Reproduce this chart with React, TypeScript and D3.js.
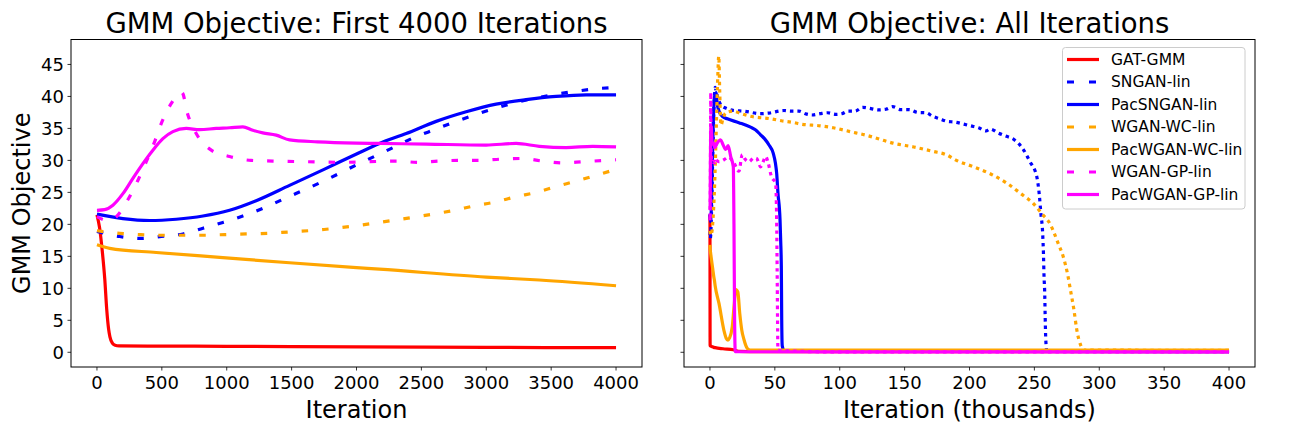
import * as d3 from 'd3';

type Pt = [number, number];

// ---- first 4000 iterations (x = iteration) ----
const gatFirst: Pt[] = [[0, 21.5], [20, 19.5], [40, 16], [60, 11.5], [75, 6.8], [90, 3.6], [100, 2.4], [120, 1.4], [140, 1.1], [170, 1.0], [500, 0.97], [1000, 0.93], [2000, 0.85], [3000, 0.77], [4000, 0.72]];
const snganFirst: Pt[] = [[0, 18.9], [175, 18.1], [342, 17.8], [496, 18.1], [662, 18.5], [817, 19.4], [970, 20.3], [1124, 21.3], [1278, 22.5], [1432, 23.9], [1750, 26.8], [2000, 29.3], [2293, 32.1], [2447, 33.6], [2601, 34.8], [2755, 36.0], [2909, 37.1], [3063, 38.1], [3217, 39.0], [3371, 39.7], [3525, 40.3], [3692, 40.8], [3846, 41.2], [4000, 41.4]];
const pacSnganFirst: Pt[] = [[0, 21.6], [200, 20.9], [406, 20.6], [611, 20.8], [817, 21.3], [1022, 22.2], [1227, 23.7], [1484, 26.1], [1750, 28.6], [2000, 31.0], [2177, 32.65], [2383, 34.2], [2614, 36.1], [2845, 37.6], [3076, 38.8], [3307, 39.5], [3538, 40.0], [3769, 40.25], [4000, 40.25]];
const wganWcFirst: Pt[] = [[0, 19.0], [175, 18.6], [329, 18.4], [483, 18.3], [662, 18.3], [829, 18.3], [983, 18.4], [1150, 18.5], [1317, 18.6], [1471, 18.8], [1750, 19.2], [2000, 19.8], [2275, 20.6], [2434, 21.1], [2588, 21.6], [2755, 22.2], [2909, 22.9], [3071, 23.5], [3224, 24.3], [3384, 25.0], [3538, 25.9], [3697, 26.8], [3851, 27.7], [4000, 28.6]];
const pacWcFirst: Pt[] = [[0, 16.8], [98, 16.25], [457, 15.6], [970, 14.8], [1484, 14.0], [2000, 13.25], [2177, 13.0], [3000, 11.75], [3409, 11.3], [4000, 10.4]];
const wganGpFirst: Pt[] = [[0, 21.2], [80, 20.6], [149, 21.2], [237, 23.8], [316, 26.9], [380, 29.8], [444, 32.9], [496, 35.8], [573, 38.9], [635, 40.5], [655, 40.6], [701, 37.1], [765, 34.2], [881, 31.6], [1022, 30.6], [1189, 30.0], [1355, 29.9], [1600, 29.8], [1900, 29.7], [2100, 29.8], [2306, 29.9], [2473, 29.7], [2634, 29.9], [2793, 30.0], [2947, 30.0], [3114, 30.2], [3276, 30.3], [3430, 29.9], [3589, 29.6], [3748, 29.8], [3910, 30.0], [4000, 30.1]];
const pacGpFirst: Pt[] = [[0, 22.2], [59, 22.3], [123, 23.0], [200, 24.8], [277, 27.2], [354, 29.5], [431, 31.6], [508, 33.4], [585, 34.5], [688, 35.0], [791, 34.8], [919, 35.0], [1022, 35.1], [1124, 35.25], [1201, 34.7], [1278, 34.3], [1381, 33.95], [1484, 33.2], [1700, 32.9], [2000, 32.7], [2177, 32.65], [2537, 32.55], [2999, 32.4], [3230, 32.65], [3409, 32.2], [3615, 32.0], [3820, 32.2], [4000, 32.1]];

// ---- rest of training (x = thousands of iterations) ----
const gatRest: Pt[] = [[10, 0.55], [18, 0.4], [22, 0.15], [40, 0.1], [100, 0.1], [400, 0.1]];
const snganRest: Pt[] = [[5, 40.6], [6.5, 39.5], [8.7, 38.6], [13, 38.1], [18.5, 37.8], [26, 37.7], [39, 37.3], [45.5, 37.4], [57, 37.8], [62, 37.7], [68.6, 37.7], [73.5, 37.3], [79, 37.1], [84.8, 37.3], [90.7, 37.45], [96.9, 37.2], [101.5, 37.3], [106.6, 37.7], [111.8, 37.7], [117.7, 38.3], [124, 38.1], [129.8, 37.9], [135.7, 38.0], [140.8, 38.4], [147, 37.95], [153.6, 37.95], [160, 37.5], [166.5, 37.45], [171.6, 36.9], [177, 36.5], [182.9, 36.1], [188.5, 36.0], [195, 35.7], [200.9, 35.4], [207, 35.1], [212.7, 34.6], [216, 34.9], [222, 34.3], [227.3, 33.85], [234, 33.3], [238.5, 32.5], [241.5, 31.7], [246.6, 29.8], [251.8, 27.5], [253.8, 24.6], [255, 21.7], [256.4, 18.5], [257, 15.3], [257.4, 12.1], [258, 8.9], [258.3, 5.7], [258.7, 2.4], [259.5, 0.3], [300, 0.15], [400, 0.15]];
const pacSnganRest: Pt[] = [[4.9, 40.6], [5.5, 39], [7, 37.7], [10, 36.8], [13.4, 36.5], [22.3, 35.9], [31.3, 35.2], [35, 34.8], [39, 34.0], [42, 33.4], [45.5, 32.4], [48.8, 31.1], [50.5, 29.5], [51.4, 28.0], [52.4, 24.9], [54, 20.7], [54.5, 17.5], [55, 13.4], [55.3, 5], [55.7, 1.0], [57, 0.3], [100, 0.15], [400, 0.1]];
const wganWcRest: Pt[] = [[5, 36], [6, 43], [6.8, 46.3], [7.5, 41], [8.5, 35.5], [10, 36.5], [12, 37.4], [18, 37.7], [24, 37.3], [31, 36.9], [47, 36.5], [55, 36.2], [65, 35.9], [69.4, 35.7], [85, 35.4], [95, 35.1], [108, 34.5], [121, 33.9], [131, 33.3], [141, 32.7], [157, 32.1], [172, 31.4], [182, 30.9], [190, 30.0], [203, 29.0], [217, 27.8], [229, 26.4], [241.5, 24.5], [249, 23.3], [255.6, 21.7], [262, 20.1], [268.4, 17.0], [272.3, 14.9], [275.6, 12.2], [278, 9.5], [280.5, 6.6], [282.6, 3.6], [285.7, 1.1], [288, 0.35], [400, 0.3]];
const pacWcRest: Pt[] = [[7, 7.6], [10.8, 3.4], [12.5, 2.2], [13.9, 1.9], [15, 2.2], [17.2, 4.0], [18.5, 7], [20, 9.8], [21.5, 9.4], [23, 6], [24.5, 3.5], [26.2, 2.0], [28.8, 0.6], [31, 0.35], [400, 0.35]];
const wganGpRest: Pt[] = [[7, 29.8], [10.8, 30.1], [14, 30.5], [18.5, 29.6], [22.3, 28.3], [24.9, 30.9], [27, 30.2], [30, 29.8], [33.9, 30.4], [36, 30.3], [39, 29.0], [41, 29.8], [43, 30.6], [45, 29.5], [47.3, 27.5], [50.6, 26.4], [51.4, 20.7], [51.8, 12.3], [52.4, 0.3], [100, 0.05], [400, 0.05]];
const pacGpRest: Pt[] = [[5.6, 32.7], [8.2, 33.2], [10, 32.5], [12.1, 31.7], [14, 32.3], [16, 30.6], [18, 29.0], [18.5, 20], [19, 5], [19.5, 0.1], [100, 0.05], [400, 0.05]];

const yTicks = [0, 5, 10, 15, 20, 25, 30, 35, 40, 45];
const xTicksFirst = [0, 500, 1000, 1500, 2000, 2500, 3000, 3500, 4000];
const xTicksAll = [0, 50, 100, 150, 200, 250, 300, 350, 400];

const series = [
  { name: 'GAT-GMM', color: '#ff0000', dashed: false, first: gatFirst, rest: gatRest },
  { name: 'SNGAN-lin', color: '#0000ff', dashed: true, first: snganFirst, rest: snganRest },
  { name: 'PacSNGAN-lin', color: '#0000ff', dashed: false, first: pacSnganFirst, rest: pacSnganRest },
  { name: 'WGAN-WC-lin', color: '#ffa500', dashed: true, first: wganWcFirst, rest: wganWcRest },
  { name: 'PacWGAN-WC-lin', color: '#ffa500', dashed: false, first: pacWcFirst, rest: pacWcRest },
  { name: 'WGAN-GP-lin', color: '#ff00ff', dashed: true, first: wganGpFirst, rest: wganGpRest },
  { name: 'PacWGAN-GP-lin', color: '#ff00ff', dashed: false, first: pacGpFirst, rest: pacGpRest },
];

const FONT = 'DejaVu Sans';
const TOP = 39.5;
const BOTTOM = 367;
const yScale = d3.scaleLinear().domain([-2.3, 48.9]).range([BOTTOM, TOP]);

interface PanelProps {
  id: string;
  x0: number;
  x1: number;
  domain: [number, number];
  xTicks: number[];
  title: string;
  xLabel: string;
  full: boolean;
}

const Panel = ({ id, x0, x1, domain, xTicks, title, xLabel, full }: PanelProps) => {
  const x = d3.scaleLinear().domain(domain).range([x0, x1]);
  const line = d3
    .line<Pt>()
    .x((d) => x(d[0]))
    .y((d) => yScale(d[1]))
    .curve(d3.curveMonotoneX);
  const cx = (x0 + x1) / 2;

  return (
    <g>
      <defs>
        <clipPath id={id}>
          <rect x={x0} y={TOP} width={x1 - x0} height={BOTTOM - TOP} />
        </clipPath>
      </defs>

      <g clipPath={`url(#${id})`}>
        {series.map((s) => {
          const pts: Pt[] = full
            ? [...s.first.map((p) => [p[0] / 1000, p[1]] as Pt), ...s.rest]
            : s.first;
          return (
            <path
              key={s.name}
              d={line(pts) || ''}
              fill="none"
              stroke={s.color}
              strokeWidth={3.2}
              strokeDasharray={s.dashed ? (full ? '3.5 4' : '6.5 14') : undefined}
              strokeLinejoin="round"
            />
          );
        })}
      </g>

      {/* frame */}
      <rect x={x0} y={TOP} width={x1 - x0} height={BOTTOM - TOP} fill="none" stroke="#000" strokeWidth={1} />

      {/* x axis */}
      {xTicks.map((t) => (
        <g key={t}>
          <line x1={x(t)} x2={x(t)} y1={BOTTOM} y2={BOTTOM + 3.5} stroke="#000" strokeWidth={0.8} />
          <text x={x(t)} y={389} textAnchor="middle" fontSize={18} fontFamily={FONT}>
            {t}
          </text>
        </g>
      ))}

      {/* y axis */}
      {yTicks.map((t) => (
        <g key={t}>
          <line x1={x0 - 3.5} x2={x0} y1={yScale(t)} y2={yScale(t)} stroke="#000" strokeWidth={0.8} />
          {!full && (
            <text x={x0 - 7} y={yScale(t) + 6.4} textAnchor="end" fontSize={18} fontFamily={FONT}>
              {t}
            </text>
          )}
        </g>
      ))}

      <text x={cx} y={33} textAnchor="middle" fontSize={27.5} fontFamily={FONT}>
        {title}
      </text>
      <text x={cx} y={418} textAnchor="middle" fontSize={24} fontFamily={FONT}>
        {xLabel}
      </text>
      {!full && (
        <text
          transform={`translate(29.5, ${(TOP + BOTTOM) / 2}) rotate(-90)`}
          textAnchor="middle"
          fontSize={24}
          fontFamily={FONT}
        >
          GMM Objective
        </text>
      )}
    </g>
  );
};

const Legend = () => {
  const left = 1062.5;
  const top = 47.5;
  const rowGap = 22.5;
  return (
    <g>
      <rect x={left} y={top} width={182.5} height={161.5} rx={3} fill="#fff" fillOpacity={0.8} stroke="#cccccc" strokeWidth={1} />
      {series.map((s, i) => {
        const cy = top + 12 + i * rowGap;
        return (
          <g key={s.name}>
            <line
              x1={left + 4.5}
              x2={left + 36.5}
              y1={cy}
              y2={cy}
              stroke={s.color}
              strokeWidth={3.2}
              strokeDasharray={s.dashed ? '7 15' : undefined}
            />
            <text x={left + 48.5} y={cy + 5.4} fontSize={15.5} fontFamily={FONT}>
              {s.name}
            </text>
          </g>
        );
      })}
    </g>
  );
};

export default function App() {
  return (
    <svg
      width={1296}
      height={432}
      style={{ position: 'absolute', left: 0, top: 0, background: '#fff' }}
    >
      <Panel
        id="clipFirst"
        x0={71}
        x1={642}
        domain={[-200, 4200]}
        xTicks={xTicksFirst}
        title="GMM Objective: First 4000 Iterations"
        xLabel="Iteration"
        full={false}
      />
      <Panel
        id="clipAll"
        x0={684}
        x1={1255}
        domain={[-20, 420]}
        xTicks={xTicksAll}
        title="GMM Objective: All Iterations"
        xLabel="Iteration (thousands)"
        full={true}
      />
      <Legend />
    </svg>
  );
}
